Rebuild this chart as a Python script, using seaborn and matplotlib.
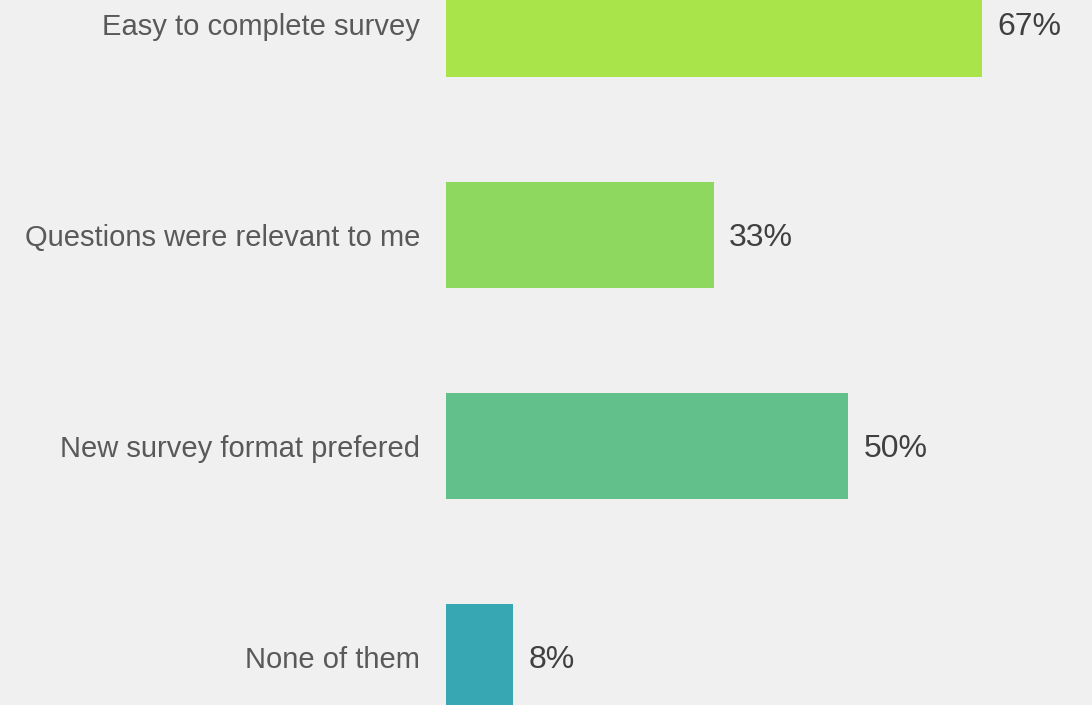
import pandas as pd
import matplotlib.pyplot as plt
import seaborn as sns

# survey answers (share of respondents, %)
categories = ['Easy to complete survey', 'Questions were relevant to me',
              'New survey format prefered', 'None of them']
values = [66.67, 33.33, 50.0, 8.33]
value_labels = ['67%', '33%', '50%', '8%']
colors = ['#a8e44a', '#8ed860', '#62c08a', '#37a7b4']

df = pd.DataFrame({'category': categories, 'value': values})

sns.set_style('white')
plt.rcParams['font.family'] = ['Liberation Sans', 'DejaVu Sans']

fig = plt.figure(figsize=(10.92, 7.05), dpi=100, facecolor='#f0f0f0')
ax = fig.add_axes([446 / 1092, 0, 646 / 1092, 1])
ax.set_facecolor('#f0f0f0')

sns.barplot(data=df, x='value', y='category', hue='category', palette=colors,
            orient='h', width=0.502, legend=False, saturation=1,
            linewidth=0, ax=ax)

# value labels to the right of each bar
for i, (v, lab) in enumerate(zip(values, value_labels)):
    ax.annotate(lab, (v, i), xytext=(11, -2.2), textcoords='offset points',
                va='center', ha='left', fontsize=23, color='#404040')

ax.set_xlim(0, 80.35)
ax.set_ylim(3 + 48 / 211, -24 / 211)
ax.set_xlabel('')
ax.set_ylabel('')
ax.set_xticks([])
ax.tick_params(axis='y', length=0, pad=18.5, labelsize=21, labelcolor='#595959')
sns.despine(ax=ax, left=True, bottom=True)

fig.savefig('out.png', dpi=100, facecolor=fig.get_facecolor())
